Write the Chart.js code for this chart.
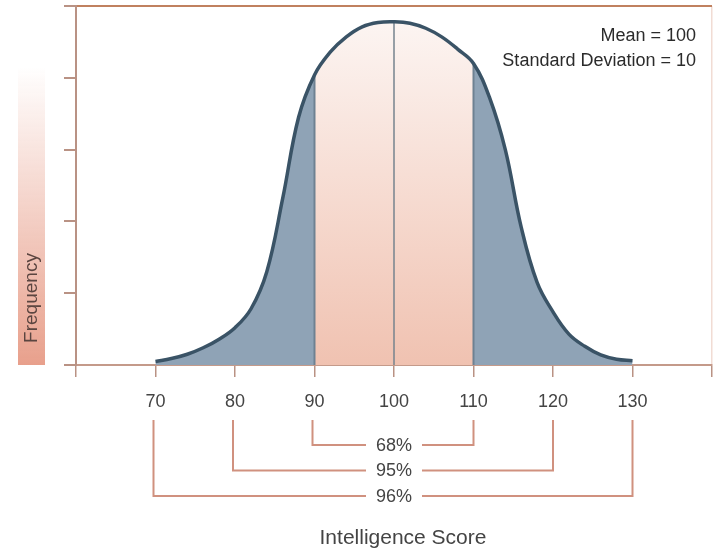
<!DOCTYPE html>
<html>
<head>
<meta charset="utf-8">
<script src="https://cdn.jsdelivr.net/npm/chart.js@4.4.1/dist/chart.umd.min.js"></script>
<style>
  html, body { margin: 0; padding: 0; background: #fff; }
  #wrap { width: 717px; height: 556px; }
</style>
</head>
<body>
<div id="wrap"><canvas id="bellChart"></canvas></div>
<script>
// values, every 2 points of score
var scores = [70, 72, 74, 76, 78, 80, 82, 84, 86, 88, 90, 92, 94, 96, 98, 100,
  102, 104, 106, 108, 110, 112, 114, 116, 118, 120, 122, 124, 126, 128, 130];
var frequency = [0.05, 0.09, 0.15, 0.24, 0.36, 0.52, 0.78, 1.30, 2.32, 3.45, 4.04, 4.36, 4.57, 4.71, 4.77, 4.78,
  4.76, 4.69, 4.57, 4.40, 4.20, 3.73, 3.00, 1.92, 1.15, 0.74, 0.43, 0.26, 0.14, 0.08, 0.06];
var tickScores = [70, 80, 90, 100, 110, 120, 130];
var bandLow = [90, 80, 70];
var bandHigh = [110, 120, 130];
var bandLabels = ['68%', '95%', '96%'];
var noteLines = ['Mean = 100', 'Standard Deviation = 10'];
var meanScore = 100;

var FONT = '"Liberation Sans", Arial, sans-serif';

function slice(lo, hi) {
  var pts = [];
  scores.forEach(function (s, i) {
    if (s >= lo && s <= hi) pts.push({ x: s, y: frequency[i] });
  });
  return pts;
}
function freqAt(s) { return frequency[scores.indexOf(s)]; }
function stem(s) { return [{ x: s, y: 0 }, { x: s, y: freqAt(s) }]; }

function centreFill(c) {
  var a = c.chart.chartArea;
  if (!a) return '#f6dcd2';
  var g = c.chart.ctx.createLinearGradient(0, a.top, 0, a.bottom);
  g.addColorStop(0, '#fdf7f5');
  g.addColorStop(1, '#f0c2b1');
  return g;
}

var tailBlue = '#8fa3b6';

var extras = {
  id: 'extras',
  beforeDraw: function (chart) {
    var ctx = chart.ctx, a = chart.chartArea;
    // Frequency bar
    var g = ctx.createLinearGradient(0, a.top + 60, 0, a.bottom);
    g.addColorStop(0, 'rgba(232,160,140,0)');
    g.addColorStop(1, 'rgba(232,160,140,1)');
    ctx.save();
    ctx.fillStyle = g;
    ctx.fillRect(18, a.top + 60, 27, a.bottom - a.top - 60);
    ctx.translate(32, 298);
    ctx.rotate(-Math.PI / 2);
    ctx.fillStyle = '#5b4540';
    ctx.font = '19px ' + FONT;
    ctx.textAlign = 'center';
    ctx.textBaseline = 'middle';
    ctx.fillText('Frequency', 0, 0);
    ctx.restore();
  },
  afterDraw: function (chart) {
    var ctx = chart.ctx, a = chart.chartArea, x = chart.scales.x;
    ctx.save();
    // note in the corner
    ctx.fillStyle = '#2b2b2b';
    ctx.font = '18px ' + FONT;
    ctx.textAlign = 'right';
    ctx.textBaseline = 'middle';
    noteLines.forEach(function (t, i) {
      ctx.fillText(t, a.right - 16, a.top + 30 + i * 25);
    });

    // brackets
    ctx.strokeStyle = '#d0917f';
    ctx.lineWidth = 2;
    ctx.fillStyle = '#444';
    ctx.textAlign = 'center';
    bandLabels.forEach(function (lab, i) {
      var x0 = x.getPixelForValue(bandLow[i]) - 2;
      var x1 = x.getPixelForValue(bandHigh[i]);
      var xm = x.getPixelForValue(meanScore);
      var y0 = a.bottom + 55;
      var y = a.bottom + 80 + i * 25.5;
      ctx.beginPath();
      ctx.moveTo(x0, y0); ctx.lineTo(x0, y); ctx.lineTo(xm - 28, y);
      ctx.moveTo(xm + 28, y); ctx.lineTo(x1, y); ctx.lineTo(x1, y0);
      ctx.stroke();
      ctx.fillText(lab, xm, y + 1);
    });

    ctx.font = '21px ' + FONT;
    ctx.fillText('Intelligence Score', x.getPixelForValue(meanScore) + 9, a.bottom + 173);
    ctx.restore();
  }
};

new Chart(document.getElementById('bellChart'), {
  type: 'line',
  data: {
    datasets: [
      { data: slice(70, 130), borderColor: '#3a5366', borderWidth: 3.5, fill: false, order: 0 },
      { data: stem(90), borderColor: '#6e8192', borderWidth: 2, fill: false, tension: 0, order: 1 },
      { data: stem(100), borderColor: '#76838e', borderWidth: 1.5, fill: false, tension: 0, order: 1 },
      { data: stem(110), borderColor: '#6e8192', borderWidth: 2, fill: false, tension: 0, order: 1 },
      { data: slice(70, 90), borderWidth: 0, backgroundColor: tailBlue, fill: 'origin', order: 2 },
      { data: slice(90, 110), borderWidth: 0, backgroundColor: centreFill, fill: 'origin', order: 2 },
      { data: slice(110, 130), borderWidth: 0, backgroundColor: tailBlue, fill: 'origin', order: 2 }
    ]
  },
  options: {
    responsive: true,
    maintainAspectRatio: false,
    animation: false,
    layout: { padding: { top: 6, right: 5, left: 0, bottom: 0 } },
    elements: {
      point: { radius: 0 },
      line: { tension: 0.4 }
    },
    plugins: { legend: { display: false }, tooltip: { enabled: false } },
    scales: {
      x: {
        type: 'linear',
        min: 60,
        max: 140,
        afterFit: function (s) { s.height = 191; s.paddingLeft = 0; s.paddingRight = 0; },
        afterBuildTicks: function (s) {
          s.ticks = [60].concat(tickScores, [140]).map(function (v) { return { value: v }; });
        },
        ticks: {
          padding: 14,
          color: '#444',
          font: { family: FONT, size: 18 },
          maxRotation: 0,
          callback: function (v) { return tickScores.indexOf(v) >= 0 ? String(v) : ''; }
        },
        grid: {
          color: function (c) { return c.tick && c.tick.value === 140 ? '#f1dcd4' : 'rgba(0,0,0,0)'; },
          tickColor: '#b99284',
          tickLength: 12,
          lineWidth: 1.5
        },
        border: { color: '#c49a8a', width: 2 }
      },
      y: {
        min: 0,
        max: 5,
        afterFit: function (s) { s.width = 76; s.paddingTop = 0; s.paddingBottom = 0; },
        ticks: { display: false, stepSize: 1 },
        grid: {
          color: function (c) { return c.tick && c.tick.value === 5 ? '#c0815f' : 'rgba(0,0,0,0)'; },
          tickColor: '#b99284',
          tickLength: 12,
          lineWidth: 2
        },
        border: { color: '#b99284', width: 2 }
      }
    }
  },
  plugins: [extras]
});
</script>
</body>
</html>
